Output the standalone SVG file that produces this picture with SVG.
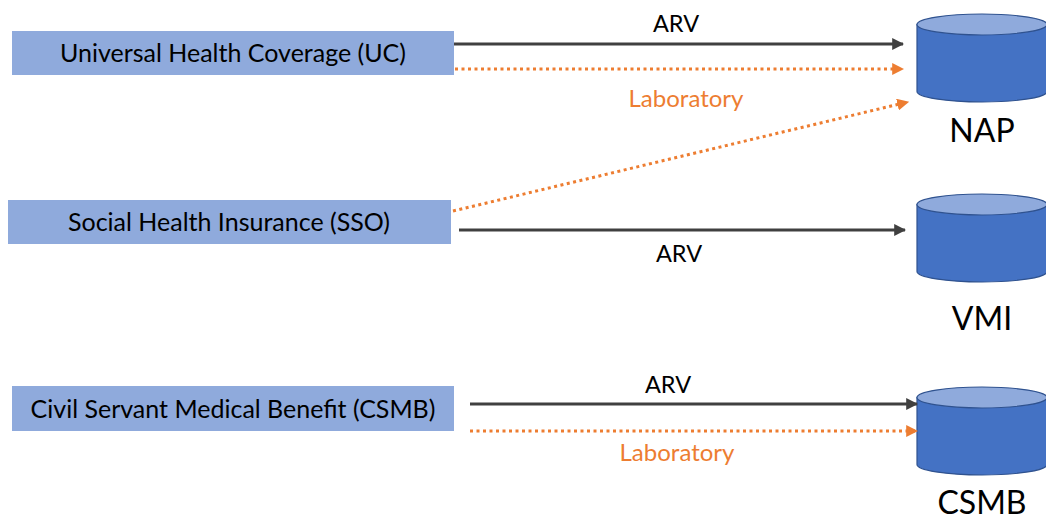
<svg xmlns="http://www.w3.org/2000/svg" width="1046" height="520" viewBox="0 0 1046 520">
  <defs>
    <marker id="arrowDark" viewBox="0 0 10 10" refX="9" refY="5" markerWidth="4" markerHeight="4" markerUnits="strokeWidth" orient="auto">
      <path d="M0,0 L10,5 L0,10 z" fill="#404040"/>
    </marker>
    <marker id="arrowOrange" viewBox="0 0 10 10" refX="9" refY="5" markerWidth="4" markerHeight="4" markerUnits="strokeWidth" orient="auto">
      <path d="M0,0 L10,5 L0,10 z" fill="#ED7D31"/>
    </marker>
  </defs>
  <style>
    .box { fill: #8FAADC; }
    .boxText { font-family: Lato, "Open Sans", sans-serif; font-size: 25px; fill: #000; text-anchor: middle; }
    .cylBody { fill: #4472C4; stroke: #2F528F; stroke-width: 1.2; }
    .cylTop { fill: #8FAADC; stroke: #2F528F; stroke-width: 1.2; }
    .dbText { font-family: Lato, "Open Sans", sans-serif; font-size: 32px; fill: #000; text-anchor: middle; }
    .solid { stroke: #404040; stroke-width: 3; fill: none; marker-end: url(#arrowDark); }
    .dotted { stroke: #ED7D31; stroke-width: 3; stroke-dasharray: 3 3.5; fill: none; marker-end: url(#arrowOrange); }
    .lblDark { font-family: Lato, "Open Sans", sans-serif; font-size: 23.5px; fill: #000; text-anchor: middle; }
    .lblOrange { font-family: Lato, "Open Sans", sans-serif; font-size: 24px; fill: #ED7D31; text-anchor: middle; }
  </style>

  <!-- payer boxes -->
  <g id="uc">
    <rect class="box" x="12" y="31" width="442" height="44"/>
    <text class="boxText" x="233" y="62">Universal Health Coverage (UC)</text>
  </g>
  <g id="sso">
    <rect class="box" x="8" y="200" width="443" height="44"/>
    <text class="boxText" x="229" y="231">Social Health Insurance (SSO)</text>
  </g>
  <g id="csmb">
    <rect class="box" x="12" y="386" width="442" height="45"/>
    <text class="boxText" x="233" y="418">Civil Servant Medical Benefit (CSMB)</text>
  </g>

  <!-- databases -->
  <g id="nap">
    <path class="cylBody" d="M917,24.5 L917,91.5 A65,10.5 0 0 0 1047,91.5 L1047,24.5 z"/>
    <ellipse class="cylTop" cx="982" cy="24.5" rx="65" ry="10.5"/>
    <text class="dbText" x="982" y="142">NAP</text>
  </g>
  <g id="vmi">
    <path class="cylBody" d="M917,204.5 L917,271.5 A65,10.5 0 0 0 1047,271.5 L1047,204.5 z"/>
    <ellipse class="cylTop" cx="982" cy="204.5" rx="65" ry="10.5"/>
    <text class="dbText" x="982" y="330">VMI</text>
  </g>
  <g id="csmbDb">
    <path class="cylBody" d="M917,397.5 L917,464.5 A65,10.5 0 0 0 1047,464.5 L1047,397.5 z"/>
    <ellipse class="cylTop" cx="982" cy="397.5" rx="65" ry="10.5"/>
    <text class="dbText" x="982" y="514">CSMB</text>
  </g>

  <!-- connectors -->
  <g id="connectors">
    <line class="solid" x1="454" y1="44" x2="903" y2="44"/>
    <line class="dotted" x1="455" y1="69" x2="903" y2="69"/>
    <line class="dotted" x1="453" y1="211" x2="908" y2="102"/>
    <line class="solid" x1="459" y1="230" x2="905" y2="230"/>
    <line class="solid" x1="470" y1="404" x2="917" y2="404"/>
    <line class="dotted" x1="470" y1="431" x2="917" y2="431"/>

    <text class="lblDark" x="676" y="32">ARV</text>
    <text class="lblOrange" x="686" y="107">Laboratory</text>
    <text class="lblDark" x="679" y="262">ARV</text>
    <text class="lblDark" x="668" y="393">ARV</text>
    <text class="lblOrange" x="677" y="461">Laboratory</text>
  </g>
</svg>
